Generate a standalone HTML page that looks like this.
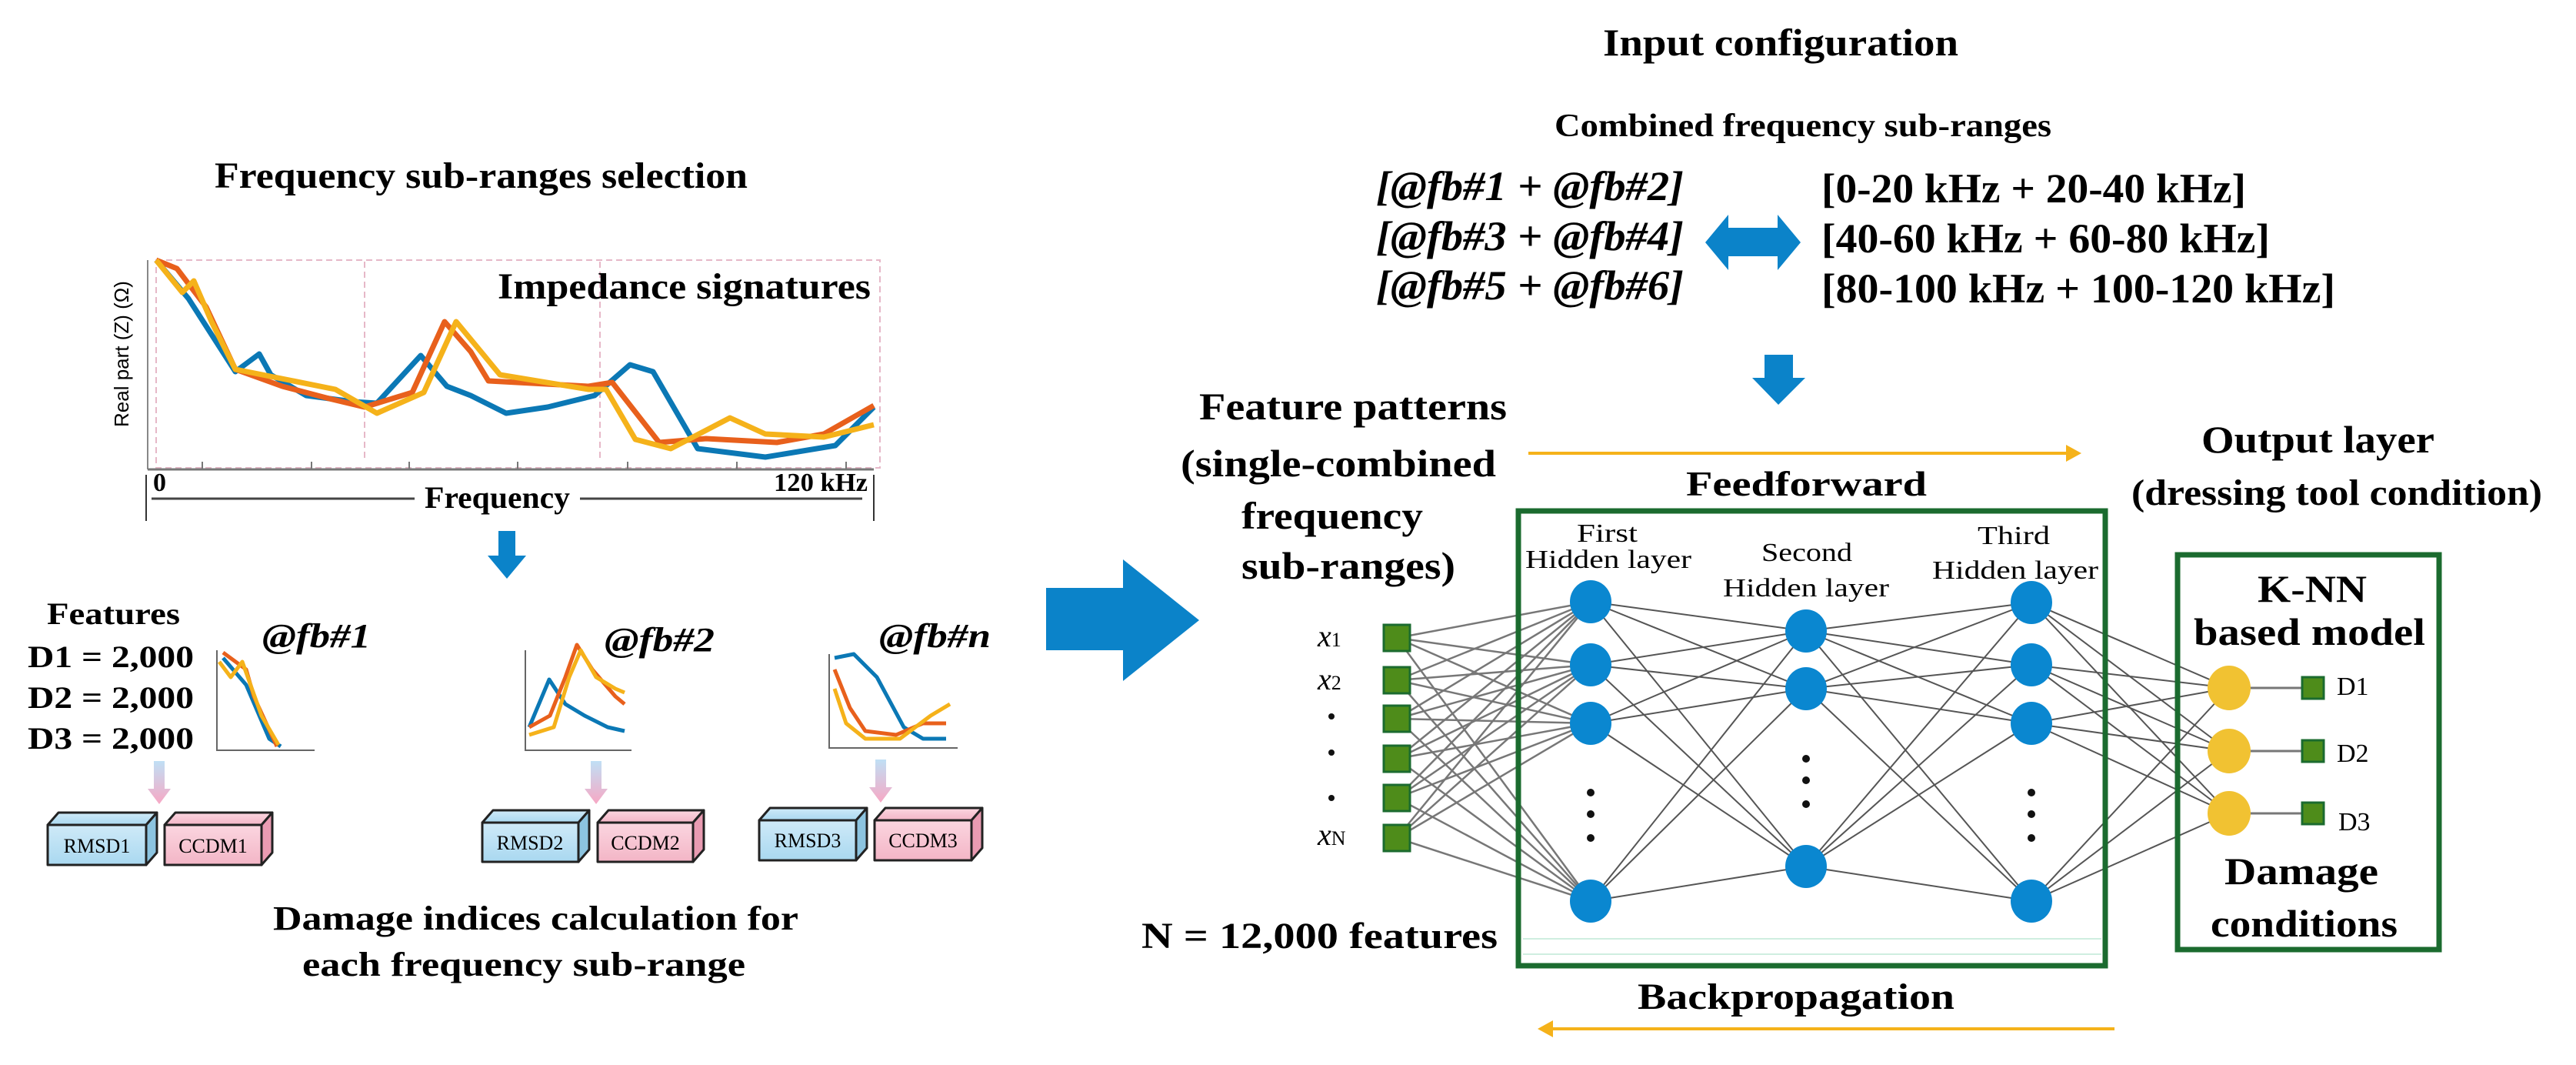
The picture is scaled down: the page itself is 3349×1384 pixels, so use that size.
<!DOCTYPE html>
<html><head><meta charset="utf-8"><style>
html,body{margin:0;padding:0;background:#fff;}
svg{display:block;}
text{font-family:"Liberation Serif",serif;font-weight:bold;fill:#000;}
</style></head><body>
<svg width="3349" height="1384" viewBox="0 0 3349 1384" xmlns="http://www.w3.org/2000/svg">
<defs>
<linearGradient id="bl" x1="0" y1="0" x2="0" y2="1"><stop offset="0" stop-color="#cfeaf8"/><stop offset="1" stop-color="#a9d8f0"/></linearGradient>
<linearGradient id="pk" x1="0" y1="0" x2="0" y2="1"><stop offset="0" stop-color="#fbd6e0"/><stop offset="1" stop-color="#f3b5c6"/></linearGradient>
<linearGradient id="pa" x1="0" y1="0" x2="0" y2="1"><stop offset="0" stop-color="#bfe0f5"/><stop offset="1" stop-color="#f7a8c4"/></linearGradient>
</defs>

<!-- LEFT: title -->
<text x="279" y="244" font-size="48" textLength="693" lengthAdjust="spacingAndGlyphs">Frequency sub-ranges selection</text>

<!-- main chart -->
<rect x="203" y="338" width="941" height="270" fill="none" stroke="#e6b8c8" stroke-width="2" stroke-dasharray="8,5"/>
<line x1="474" y1="340" x2="474" y2="600" stroke="#e6b8c8" stroke-width="2" stroke-dasharray="8,5"/>
<line x1="780" y1="340" x2="780" y2="600" stroke="#e6b8c8" stroke-width="2" stroke-dasharray="8,5"/>
<line x1="192" y1="338" x2="192" y2="610" stroke="#888" stroke-width="2"/>
<line x1="192" y1="610" x2="1136" y2="610" stroke="#777" stroke-width="3"/>
<g stroke="#777" stroke-width="2">
<line x1="263" y1="610" x2="263" y2="600"/><line x1="405" y1="610" x2="405" y2="600"/><line x1="532" y1="610" x2="532" y2="600"/><line x1="673" y1="610" x2="673" y2="600"/><line x1="816" y1="610" x2="816" y2="600"/><line x1="958" y1="610" x2="958" y2="600"/><line x1="1100" y1="610" x2="1100" y2="600"/>
</g>
<text x="0" y="0" font-size="26" font-weight="normal" style="font-family:'Liberation Sans',sans-serif;font-weight:normal" fill="#555" transform="translate(167,555) rotate(-90)">Real part (Z) (Ω)</text>
<g fill="none" stroke-width="7" stroke-linejoin="round">
<polyline stroke="#0b78b5" points="203,338 245,388 306,483 337,460 352,487 398,514 459,522 490,524 547,462 581,502 612,514 658,537 712,529 773,514 819,474 849,483 907,583 995,594 1086,579 1136,529"/>
<polyline stroke="#e8601c" points="203,338 230,349 268,399 306,480 367,502 428,518 474,529 536,510 578,418 612,457 635,495 765,502 796,497 857,575 918,570 1010,575 1071,564 1136,527"/>
<polyline stroke="#f5b21a" points="203,338 237,380 252,365 275,418 306,480 436,506 490,537 551,510 593,418 650,487 765,506 788,506 826,571 872,583 949,543 995,564 1071,568 1136,552"/>
</g>
<text x="647" y="388" font-size="48" textLength="485" lengthAdjust="spacingAndGlyphs">Impedance signatures</text>
<text x="199" y="638" font-size="34">0</text>
<text x="1006" y="638" font-size="34" textLength="122" lengthAdjust="spacingAndGlyphs">120 kHz</text>
<line x1="190" y1="617" x2="190" y2="677" stroke="#333" stroke-width="2"/>
<line x1="1136" y1="617" x2="1136" y2="677" stroke="#333" stroke-width="2"/>
<line x1="197" y1="648" x2="539" y2="648" stroke="#444" stroke-width="3"/>
<line x1="754" y1="648" x2="1121" y2="648" stroke="#444" stroke-width="3"/>
<text x="552" y="660" font-size="40" textLength="189" lengthAdjust="spacingAndGlyphs">Frequency</text>

<!-- down arrow left -->
<polygon points="648,690 670,690 670,722 684,722 659,752 634,722 648,722" fill="#0b83c9"/>

<!-- features -->
<text x="61" y="811" font-size="40" textLength="173" lengthAdjust="spacingAndGlyphs">Features</text>
<text x="36" y="867" font-size="40" textLength="216" lengthAdjust="spacingAndGlyphs">D1 = 2,000</text>
<text x="36" y="920" font-size="40" textLength="216" lengthAdjust="spacingAndGlyphs">D2 = 2,000</text>
<text x="36" y="973" font-size="40" textLength="216" lengthAdjust="spacingAndGlyphs">D3 = 2,000</text>
<text x="341" y="841" font-size="44" font-style="italic" textLength="141" lengthAdjust="spacingAndGlyphs">@fb#1</text>
<text x="786" y="846" font-size="44" font-style="italic" textLength="143" lengthAdjust="spacingAndGlyphs">@fb#2</text>
<text x="1143" y="841" font-size="44" font-style="italic" textLength="145" lengthAdjust="spacingAndGlyphs">@fb#n</text>

<!-- mini charts -->
<g fill="none" stroke="#666" stroke-width="2">
<polyline points="282,845 282,975 409,975"/>
<polyline points="683,845 683,975 821,975"/>
<polyline points="1078,850 1078,972 1245,972"/>
</g>
<g fill="none" stroke-width="5" stroke-linejoin="round">
<polyline stroke="#0b78b5" points="290,855 320,890 350,960 365,970"/>
<polyline stroke="#e8601c" points="290,848 320,870 330,905 360,970"/>
<polyline stroke="#f5b21a" points="285,860 300,880 315,860 340,930 362,968"/>
<polyline stroke="#0b78b5" points="688,945 714,883 735,915 760,930 790,945 812,950"/>
<polyline stroke="#e8601c" points="688,945 715,930 735,880 750,838 770,870 800,905 812,915"/>
<polyline stroke="#f5b21a" points="688,955 720,945 740,880 755,845 775,880 800,895 812,900"/>
<polyline stroke="#0b78b5" points="1085,855 1110,850 1140,880 1175,945 1200,960 1230,960"/>
<polyline stroke="#e8601c" points="1085,870 1105,920 1125,950 1165,955 1200,940 1230,940"/>
<polyline stroke="#f5b21a" points="1085,895 1100,940 1125,960 1170,960 1210,930 1235,915"/>
</g>

<!-- pink arrows -->
<g fill="url(#pa)">
<polygon points="200,989 214,989 214,1025 222,1025 207,1045 192,1025 200,1025"/>
<polygon points="768,989 782,989 782,1025 790,1025 775,1045 760,1025 768,1025"/>
<polygon points="1138,987 1152,987 1152,1023 1160,1023 1145,1043 1130,1023 1138,1023"/>
</g>

<!-- 3D boxes -->
<g stroke="#222" stroke-width="3" stroke-linejoin="round">
<g><polygon points="62,1072 76,1056 204,1056 190,1072" fill="url(#bl)"/><polygon points="190,1072 204,1056 204,1108 190,1124" fill="#8cc4e0"/><rect x="62" y="1072" width="128" height="52" fill="url(#bl)"/></g>
<g><polygon points="214,1072 228,1056 354,1056 340,1072" fill="url(#pk)"/><polygon points="340,1072 354,1056 354,1108 340,1124" fill="#e99bb2"/><rect x="214" y="1072" width="126" height="52" fill="url(#pk)"/></g>
<g><polygon points="627,1069 641,1053 766,1053 752,1069" fill="url(#bl)"/><polygon points="752,1069 766,1053 766,1104 752,1120" fill="#8cc4e0"/><rect x="627" y="1069" width="125" height="51" fill="url(#bl)"/></g>
<g><polygon points="777,1069 791,1053 915,1053 901,1069" fill="url(#pk)"/><polygon points="901,1069 915,1053 915,1104 901,1120" fill="#e99bb2"/><rect x="777" y="1069" width="124" height="51" fill="url(#pk)"/></g>
<g><polygon points="987,1066 1001,1050 1127,1050 1113,1066" fill="url(#bl)"/><polygon points="1113,1066 1127,1050 1127,1102 1113,1118" fill="#8cc4e0"/><rect x="987" y="1066" width="126" height="52" fill="url(#bl)"/></g>
<g><polygon points="1137,1066 1151,1050 1277,1050 1263,1066" fill="url(#pk)"/><polygon points="1263,1066 1277,1050 1277,1102 1263,1118" fill="#e99bb2"/><rect x="1137" y="1066" width="126" height="52" fill="url(#pk)"/></g>
</g>
<g font-size="26" style="font-weight:normal">
<text x="126" y="1108" text-anchor="middle" style="font-weight:normal" fill="#222">RMSD1</text>
<text x="277" y="1108" text-anchor="middle" style="font-weight:normal" fill="#222">CCDM1</text>
<text x="689" y="1104" text-anchor="middle" style="font-weight:normal" fill="#222">RMSD2</text>
<text x="839" y="1104" text-anchor="middle" style="font-weight:normal" fill="#222">CCDM2</text>
<text x="1050" y="1101" text-anchor="middle" style="font-weight:normal" fill="#222">RMSD3</text>
<text x="1200" y="1101" text-anchor="middle" style="font-weight:normal" fill="#222">CCDM3</text>
</g>
<text x="355" y="1208" font-size="44" textLength="683" lengthAdjust="spacingAndGlyphs">Damage indices calculation for</text>
<text x="393" y="1268" font-size="44" textLength="576" lengthAdjust="spacingAndGlyphs">each frequency sub-range</text>

<!-- big blue arrow -->
<polygon points="1360,764 1460,764 1460,727 1559,806 1460,885 1460,845 1360,845" fill="#0b83c9"/>

<!-- RIGHT top -->
<text x="2084" y="72" font-size="50" textLength="462" lengthAdjust="spacingAndGlyphs">Input configuration</text>
<text x="2021" y="177" font-size="42" textLength="646" lengthAdjust="spacingAndGlyphs">Combined frequency sub-ranges</text>
<g font-size="54" font-style="italic">
<text x="1789" y="260" textLength="400" lengthAdjust="spacingAndGlyphs">[@fb#1 + @fb#2]</text>
<text x="1789" y="325" textLength="400" lengthAdjust="spacingAndGlyphs">[@fb#3 + @fb#4]</text>
<text x="1789" y="389" textLength="400" lengthAdjust="spacingAndGlyphs">[@fb#5 + @fb#6]</text>
</g>
<g font-size="54">
<text x="2368" y="263" textLength="552" lengthAdjust="spacingAndGlyphs">[0-20 kHz + 20-40 kHz]</text>
<text x="2368" y="328" textLength="583" lengthAdjust="spacingAndGlyphs">[40-60 kHz + 60-80 kHz]</text>
<text x="2368" y="393" textLength="668" lengthAdjust="spacingAndGlyphs">[80-100 kHz + 100-120 kHz]</text>
</g>
<polygon points="2217,315 2247,279 2247,296 2311,296 2311,279 2341,315 2311,351 2311,333 2247,333 2247,351" fill="#0b83c9"/>
<polygon points="2294,461 2331,461 2331,491 2347,491 2312,526 2278,491 2294,491" fill="#0b83c9"/>

<!-- Feature patterns -->
<text x="1559" y="545" font-size="50" textLength="400" lengthAdjust="spacingAndGlyphs">Feature patterns</text>
<text x="1535" y="619" font-size="50" textLength="410" lengthAdjust="spacingAndGlyphs">(single-combined</text>
<text x="1614" y="687" font-size="50" textLength="236" lengthAdjust="spacingAndGlyphs">frequency</text>
<text x="1614" y="752" font-size="50" textLength="278" lengthAdjust="spacingAndGlyphs">sub-ranges)</text>

<!-- feedforward -->
<line x1="1987" y1="589" x2="2690" y2="589" stroke="#f5b21a" stroke-width="4"/>
<polygon points="2686,578 2706,589 2686,600" fill="#f5b21a"/>
<text x="2192" y="644" font-size="46" textLength="313" lengthAdjust="spacingAndGlyphs">Feedforward</text>
<text x="2862" y="588" font-size="50" textLength="303" lengthAdjust="spacingAndGlyphs">Output layer</text>
<text x="2771" y="656" font-size="48" textLength="534" lengthAdjust="spacingAndGlyphs">(dressing tool condition)</text>

<!-- connections -->
<g stroke="#777" stroke-width="2.5">
<!-- input -> L1 -->
<g id="in">
<line x1="1816" y1="829" x2="2068" y2="782"/><line x1="1816" y1="829" x2="2068" y2="864"/><line x1="1816" y1="829" x2="2068" y2="940"/><line x1="1816" y1="829" x2="2068" y2="1171"/>
<line x1="1816" y1="884" x2="2068" y2="782"/><line x1="1816" y1="884" x2="2068" y2="864"/><line x1="1816" y1="884" x2="2068" y2="940"/><line x1="1816" y1="884" x2="2068" y2="1171"/>
<line x1="1816" y1="934" x2="2068" y2="782"/><line x1="1816" y1="934" x2="2068" y2="864"/><line x1="1816" y1="934" x2="2068" y2="940"/><line x1="1816" y1="934" x2="2068" y2="1171"/>
<line x1="1816" y1="986" x2="2068" y2="782"/><line x1="1816" y1="986" x2="2068" y2="864"/><line x1="1816" y1="986" x2="2068" y2="940"/><line x1="1816" y1="986" x2="2068" y2="1171"/>
<line x1="1816" y1="1037" x2="2068" y2="782"/><line x1="1816" y1="1037" x2="2068" y2="864"/><line x1="1816" y1="1037" x2="2068" y2="940"/><line x1="1816" y1="1037" x2="2068" y2="1171"/>
<line x1="1816" y1="1089" x2="2068" y2="782"/><line x1="1816" y1="1089" x2="2068" y2="864"/><line x1="1816" y1="1089" x2="2068" y2="940"/><line x1="1816" y1="1089" x2="2068" y2="1171"/>
</g>
</g>
<g stroke="#555" stroke-width="2">
<line x1="2068" y1="782" x2="2348" y2="820"/><line x1="2068" y1="782" x2="2348" y2="895"/><line x1="2068" y1="782" x2="2348" y2="1126"/>
<line x1="2068" y1="864" x2="2348" y2="820"/><line x1="2068" y1="864" x2="2348" y2="895"/><line x1="2068" y1="864" x2="2348" y2="1126"/>
<line x1="2068" y1="940" x2="2348" y2="820"/><line x1="2068" y1="940" x2="2348" y2="895"/><line x1="2068" y1="940" x2="2348" y2="1126"/>
<line x1="2068" y1="1171" x2="2348" y2="820"/><line x1="2068" y1="1171" x2="2348" y2="895"/><line x1="2068" y1="1171" x2="2348" y2="1126"/>
<line x1="2348" y1="820" x2="2641" y2="783"/><line x1="2348" y1="820" x2="2641" y2="864"/><line x1="2348" y1="820" x2="2641" y2="940"/><line x1="2348" y1="820" x2="2641" y2="1171"/>
<line x1="2348" y1="895" x2="2641" y2="783"/><line x1="2348" y1="895" x2="2641" y2="864"/><line x1="2348" y1="895" x2="2641" y2="940"/><line x1="2348" y1="895" x2="2641" y2="1171"/>
<line x1="2348" y1="1126" x2="2641" y2="783"/><line x1="2348" y1="1126" x2="2641" y2="864"/><line x1="2348" y1="1126" x2="2641" y2="940"/><line x1="2348" y1="1126" x2="2641" y2="1171"/>
<line x1="2641" y1="783" x2="2898" y2="894"/><line x1="2641" y1="783" x2="2898" y2="976"/><line x1="2641" y1="783" x2="2898" y2="1057"/>
<line x1="2641" y1="864" x2="2898" y2="894"/><line x1="2641" y1="864" x2="2898" y2="976"/><line x1="2641" y1="864" x2="2898" y2="1057"/>
<line x1="2641" y1="940" x2="2898" y2="894"/><line x1="2641" y1="940" x2="2898" y2="976"/><line x1="2641" y1="940" x2="2898" y2="1057"/>
<line x1="2641" y1="1171" x2="2898" y2="894"/><line x1="2641" y1="1171" x2="2898" y2="976"/><line x1="2641" y1="1171" x2="2898" y2="1057"/>
</g>

<!-- boxes -->
<rect x="1974" y="664" width="763" height="591" fill="none" stroke="#1b6b2f" stroke-width="7"/>
<line x1="1980" y1="1220" x2="2732" y2="1220" stroke="#cfeee0" stroke-width="2"/>
<line x1="1980" y1="1240" x2="2732" y2="1240" stroke="#cfeee0" stroke-width="2"/>
<rect x="2831" y="721" width="340" height="513" fill="none" stroke="#1b6b2f" stroke-width="7"/>

<!-- hidden layer labels -->
<g style="font-weight:normal">
<text x="2050" y="704" font-size="34" textLength="79" lengthAdjust="spacingAndGlyphs" style="font-weight:normal">First</text>
<text x="1983" y="738" font-size="34" textLength="216" lengthAdjust="spacingAndGlyphs" style="font-weight:normal">Hidden layer</text>
<text x="2290" y="729" font-size="34" textLength="118" lengthAdjust="spacingAndGlyphs" style="font-weight:normal">Second</text>
<text x="2240" y="775" font-size="34" textLength="216" lengthAdjust="spacingAndGlyphs" style="font-weight:normal">Hidden layer</text>
<text x="2571" y="707" font-size="34" textLength="94" lengthAdjust="spacingAndGlyphs" style="font-weight:normal">Third</text>
<text x="2512" y="752" font-size="34" textLength="216" lengthAdjust="spacingAndGlyphs" style="font-weight:normal">Hidden layer</text>
</g>

<!-- nodes -->
<g fill="#0a87d0">
<ellipse cx="2068" cy="782" rx="27" ry="28"/><ellipse cx="2068" cy="864" rx="27" ry="28"/><ellipse cx="2068" cy="940" rx="27" ry="28"/><ellipse cx="2068" cy="1171" rx="27" ry="28"/>
<ellipse cx="2348" cy="820" rx="27" ry="28"/><ellipse cx="2348" cy="895" rx="27" ry="28"/><ellipse cx="2348" cy="1126" rx="27" ry="28"/>
<ellipse cx="2641" cy="783" rx="27" ry="28"/><ellipse cx="2641" cy="864" rx="27" ry="28"/><ellipse cx="2641" cy="940" rx="27" ry="28"/><ellipse cx="2641" cy="1171" rx="27" ry="28"/>
</g>
<g fill="#111">
<circle cx="2068" cy="1030" r="5"/><circle cx="2068" cy="1058" r="5"/><circle cx="2068" cy="1089" r="5"/>
<circle cx="2348" cy="986" r="5"/><circle cx="2348" cy="1014" r="5"/><circle cx="2348" cy="1045" r="5"/>
<circle cx="2641" cy="1030" r="5"/><circle cx="2641" cy="1058" r="5"/><circle cx="2641" cy="1089" r="5"/>
</g>
<!-- inputs -->
<g fill="#4e8c1a" stroke="#1b6b2f" stroke-width="3">
<rect x="1799" y="812" width="34" height="34"/><rect x="1799" y="867" width="34" height="34"/><rect x="1799" y="917" width="34" height="34"/><rect x="1799" y="969" width="34" height="34"/><rect x="1799" y="1020" width="34" height="34"/><rect x="1799" y="1072" width="34" height="34"/>
</g>
<g font-style="italic" font-size="40" style="font-weight:normal">
<text x="1713" y="840" style="font-weight:normal">x<tspan font-size="26" style="font-style:normal">1</tspan></text>
<text x="1713" y="896" style="font-weight:normal">x<tspan font-size="26" style="font-style:normal">2</tspan></text>
<text x="1713" y="1098" style="font-weight:normal">x<tspan font-size="26" style="font-style:normal">N</tspan></text>
</g>
<g fill="#111"><circle cx="1731" cy="931" r="4"/><circle cx="1731" cy="978" r="4"/><circle cx="1731" cy="1037" r="4"/></g>

<!-- output -->
<g stroke="#777" stroke-width="3"><line x1="2898" y1="894" x2="3008" y2="894"/><line x1="2898" y1="976" x2="3008" y2="976"/><line x1="2898" y1="1057" x2="3008" y2="1057"/></g>
<g fill="#f1c232"><ellipse cx="2898" cy="894" rx="28" ry="29"/><ellipse cx="2898" cy="976" rx="28" ry="29"/><ellipse cx="2898" cy="1057" rx="28" ry="29"/></g>
<g fill="#4e8c1a" stroke="#1b6b2f" stroke-width="3"><rect x="2993" y="880" width="28" height="28"/><rect x="2993" y="962" width="28" height="28"/><rect x="2993" y="1043" width="28" height="28"/></g>
<g font-size="34" style="font-weight:normal">
<text x="3038" y="903" style="font-weight:normal">D1</text>
<text x="3038" y="990" style="font-weight:normal">D2</text>
<text x="3040" y="1079" style="font-weight:normal">D3</text>
</g>
<text x="2935" y="782" font-size="50" textLength="142" lengthAdjust="spacingAndGlyphs">K-NN</text>
<text x="2852" y="838" font-size="50" textLength="301" lengthAdjust="spacingAndGlyphs">based model</text>
<text x="2892" y="1149" font-size="50" textLength="200" lengthAdjust="spacingAndGlyphs">Damage</text>
<text x="2874" y="1217" font-size="50" textLength="243" lengthAdjust="spacingAndGlyphs">conditions</text>

<text x="1484" y="1232" font-size="48" textLength="463" lengthAdjust="spacingAndGlyphs">N = 12,000 features</text>
<text x="2129" y="1311" font-size="48" textLength="412" lengthAdjust="spacingAndGlyphs">Backpropagation</text>
<line x1="2015" y1="1337" x2="2749" y2="1337" stroke="#f5b21a" stroke-width="4"/>
<polygon points="2019,1326 1999,1337 2019,1348" fill="#f5b21a"/>
</svg>
</body></html>
